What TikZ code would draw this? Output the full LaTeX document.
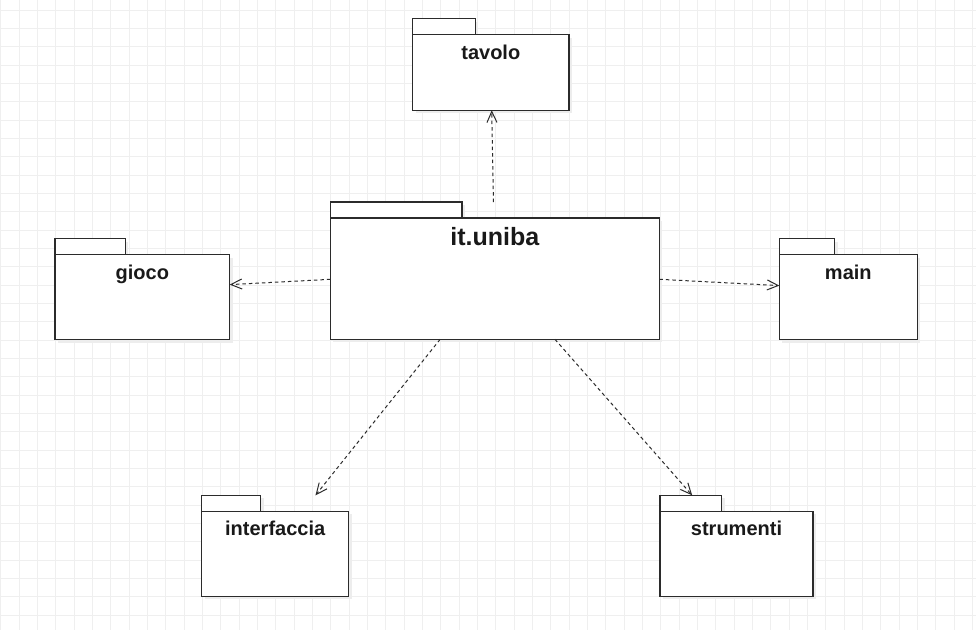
\documentclass[tikz,border=0pt]{standalone}
\usepackage{fontspec}
\setmainfont{Liberation Sans}
\usetikzlibrary{arrows.meta,fit,calc}
\definecolor{gridc}{HTML}{EFEFEF}
\definecolor{linec}{HTML}{2B2B2B}
\definecolor{shadowc}{HTML}{EDEDED}
\tikzset{
  gridline/.style={draw=gridc, line width=0.9pt},
  pkgline/.style={draw=linec, line width=1.3pt, fill=white},
  pkgshadow/.style={fill=shadowc, draw=none},
  pkgbox/.style={inner sep=0pt, outer sep=0pt, draw=none},
  lbl/.style={anchor=base, inner sep=0pt, font=\bfseries\fontsize{20}{24}\selectfont, text=black!90},
  biglbl/.style={anchor=base, inner sep=0pt, font=\bfseries\fontsize{25}{30}\selectfont, text=black!90},
  dep/.style={draw=linec, line width=1pt, dash pattern=on 3.5pt off 3pt, -{Straight Barb[length=11pt,width=10pt,line width=1pt]}}
}
% #1 name, #2 left x, #3 tab top y, #4 right x, #5 bottom y, #6 tab right x
\newcommand\umlpkg[6]{%
  \node[pkgbox, fit={(#2,#3) (#4,#5)}] (#1) {};
  \fill[pkgshadow] (#2+3,#3+19) rectangle (#4+3,#5+3);
  \fill[pkgshadow] (#2+3,#3+3) rectangle (#6+3,#3+19);
  \draw[pkgline] (#2,#3) rectangle (#6,#3+16);
  \draw[pkgline] (#2,#3+16) rectangle (#4,#5);
}
\begin{document}
\begin{tikzpicture}[x=1pt,y=-1pt]
\useasboundingbox (0,0) rectangle (976,630);
\fill[white] (0,0) rectangle (976,630);
\foreach \i in {0,...,53} \draw[gridline] (0.67+18.333*\i,0) -- (0.67+18.333*\i,630);
\foreach \j in {0,...,33} \draw[gridline] (0,10+18.333*\j) -- (976,10+18.333*\j);

\umlpkg{tavolo}{412.7}{18.7}{569}{110.3}{475.3}
\umlpkg{uniba}{330.3}{202}{659.3}{339.3}{462}
\umlpkg{gioco}{55}{238.7}{229.7}{339.7}{125.3}
\umlpkg{main}{779.3}{238.7}{917.3}{339.7}{834.7}
\umlpkg{intf}{201.7}{495.3}{348.7}{596.3}{260.7}
\umlpkg{strum}{660}{495.3}{813}{596.3}{721.7}

\node[lbl] (ltavolo) at (490.8,59) {tavolo};
\node[biglbl] (luniba) at (494.8,245) {it.uniba};
\node[lbl] (lgioco) at (142.3,279) {gioco};
\node[lbl] (lmain) at (848.3,279) {main};
\node[lbl] (lintf) at (275.2,535.3) {interfaccia};
\node[lbl] (lstrum) at (736.5,535.3) {strumenti};

\draw[dep] (uniba) -- (tavolo);
\draw[dep] (uniba) -- (gioco);
\draw[dep] (uniba) -- (main);
\draw[dep] (uniba) -- (intf);
\draw[dep] (uniba) -- (strum);
\end{tikzpicture}
\end{document}
